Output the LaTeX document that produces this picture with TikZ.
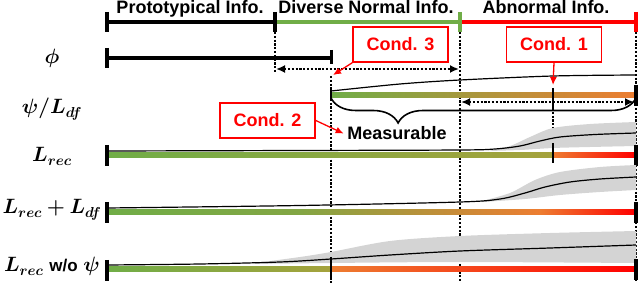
\documentclass[tikz,border=0pt]{standalone}
\usepackage{fontspec}
\setmainfont{Liberation Sans}
\usepackage{amsmath}
\usepackage{bm}
\usetikzlibrary{arrows.meta, decorations.pathreplacing}

\definecolor{grn}{RGB}{112,173,71}
\definecolor{olv}{RGB}{165,162,60}
\definecolor{org}{RGB}{237,125,49}
\definecolor{rd}{RGB}{255,0,0}
\definecolor{bandgray}{RGB}{212,212,212}

\tikzset{
  lbl/.style={font=\fontsize{18}{20}\selectfont\bfseries},
  mlbl/.style={font=\huge},
  cond/.style={draw=rd, line width=1.6pt, text=rd, font=\fontsize{18}{20}\selectfont\bfseries,
    minimum width=95pt, minimum height=35pt, inner sep=2pt},
  barline/.style={line width=4pt},
  endtick/.style={line width=4.5pt},
  midtick/.style={line width=2pt},
  guide/.style={line width=2.1pt, dash pattern=on 2.2pt off 1.6pt},
  span/.style={guide, {Latex[length=9pt,width=8pt]}-{Latex[length=9pt,width=8pt]}},
  pointer/.style={draw=rd, line width=1.3pt, -{Latex[length=8pt,width=7pt]}},
  trend/.style={line width=1.2pt},
  band/.style={fill=bandgray, draw=none}
}

\begin{document}
\begin{tikzpicture}[x=1pt, y=-1pt, line width=1pt]
  \useasboundingbox (0,0) rectangle (640,283);

  % ===== Kopfzeile =====
  \draw[barline] (107,22) -- (275,22);
  \draw[barline, grn] (275,22) -- (460,22);
  \draw[barline, rd] (460,22) -- (636,22);
  \draw[endtick] (107,12) -- (107,32);
  \draw[endtick] (275,12) -- (275,32);
  \draw[endtick, grn] (460,12) -- (460,32);
  \draw[endtick, rd] (636,12) -- (636,32);
  \node[lbl, anchor=base] (proto) at (190,14) {Prototypical Info.};
  \node[lbl, anchor=base] (normal) at (366,14) {Diverse Normal Info.};
  \node[lbl, anchor=base] (abnorm) at (546,14) {Abnormal Info.};

  % ===== Hilfslinien =====
  \draw[guide] (275,32) -- (275,72);
  \draw[guide] (331,76) -- (331,283);
  \draw[guide] (460,32) -- (460,283);
  \draw[guide] (553,108) -- (553,143);
  \draw[guide] (636,32) -- (636,283);

  % ===== phi =====
  \node[mlbl] (lphi) at (52,58) {$\bm{\phi}$};
  \draw[barline] (107,58) -- (331,58);
  \draw[endtick] (107,48) -- (107,68);
  \draw[midtick, line width=3pt] (331,50) -- (331,64);
  \coordinate (phiL) at (276,69);
  \coordinate (phiR) at (459,69);
  \draw[span] (phiL) -- (phiR);

  % ===== psi / L_df =====
  \node[mlbl, anchor=base] (lpsi) at (52,114) {$\bm{\psi/L_{df}}$};
  \draw[trend] plot[smooth] coordinates {(331,91) (400,84) (460,80) (553,76) (636,75)};
  \shade[left color=grn, right color=org] (331,93) rectangle (636,97.5);
  \draw[midtick] (331,87) -- (331,100);
  \draw[midtick] (553,88) -- (553,108);
  \draw[endtick] (636,85) -- (636,106);
  \coordinate (psiL) at (461,102);
  \coordinate (psiR) at (634,102);
  \draw[span] (psiL) -- (psiR);
  \draw[line width=1.6pt, decorate, decoration={brace, mirror, amplitude=25pt, aspect=0.22}]
    (331,98) -- (636,98);
  \node[lbl, anchor=base] (meas) at (397,140) {Measurable};

  % ===== L_rec =====
  \node[mlbl, anchor=base] (lrec) at (52,162) {$\bm{L_{rec}}$};
  \fill[band] plot[smooth] coordinates {(488,151) (510,146) (530,137) (553,128) (590,124) (636,122)}
    -- plot[smooth] coordinates {(636,146) (590,147) (553,148) (520,150) (488,151)} -- cycle;
  \shade[left color=grn, right color=olv] (107,152.5) rectangle (553,157.5);
  \shade[left color=org, right color=rd] (553,152.5) rectangle (636,157.5);
  \draw[trend] plot[smooth] coordinates {(107,151) (300,150.5) (460,150) (495,149)
    (520,146) (540,141) (560,137) (595,134.5) (636,133)};
  \draw[endtick] (107,145) -- (107,166);
  \draw[midtick] (553,143) -- (553,163);
  \draw[endtick] (636,145) -- (636,166);

  % ===== L_rec + L_df =====
  \node[mlbl, anchor=base] (lrecdf) at (52,214) {$\bm{L_{rec}+L_{df}}$};
  \fill[band] plot[smooth] coordinates {(482,201) (510,193) (535,180) (560,172) (600,167) (636,165)}
    -- plot[smooth] coordinates {(636,190) (600,192) (560,195) (525,199) (482,202)} -- cycle;
  \shade[left color=grn, right color=grn!85!org] (107,209.5) rectangle (300,214.5);
  \shade[left color=grn!85!org, right color=org] (300,209.5) rectangle (540,214.5);
  \shade[left color=org, right color=rd] (540,209.5) rectangle (636,214.5);
  \draw[trend] plot[smooth] coordinates {(107,208) (300,205.5) (460,202) (500,199)
    (525,193) (545,187) (570,182) (600,179) (636,177)};
  \draw[endtick] (107,202) -- (107,223);
  \draw[endtick] (636,202) -- (636,223);

  % ===== L_rec w/o psi =====
  \node[mlbl, anchor=base] (lnopsi) at (52,272)
    {$\bm{L_{rec}}$ {\fontsize{17}{18}\selectfont\bfseries w/o} $\bm{\psi}$};
  \fill[band] plot[smooth] coordinates {(255,263) (300,257) (331,252) (390,241) (460,236) (550,233) (636,231)}
    -- plot[smooth] coordinates {(636,263) (460,262) (331,263) (255,264)} -- cycle;
  \shade[left color=grn, right color=olv] (107,266.5) rectangle (331,271.5);
  \shade[left color=org, right color=rd] (331,266.5) rectangle (636,271.5);
  \draw[trend] plot[smooth] coordinates {(107,265) (200,264) (280,262) (331,259)
    (390,255) (460,251) (550,248) (636,245)};
  \draw[endtick] (107,260) -- (107,281);
  \draw[midtick] (331,257) -- (331,278);
  \draw[endtick] (636,259) -- (636,280);

  % ===== Bedingungen =====
  \node[cond] (cond3) at (400.5,44.5) {Cond. 3};
  \node[cond] (cond1) at (554,44.5) {Cond. 1};
  \node[cond] (cond2) at (267.5,120.5) {Cond. 2};
  \coordinate (c3tip) at (333,75);
  \coordinate (c1tip) at (553,85);
  \draw[pointer] (cond3.south west) -- (c3tip);
  \draw[pointer] (cond1.south) -- (c1tip);
  \draw[pointer] (cond2.east) -- (meas.west);
\end{tikzpicture}
\end{document}
